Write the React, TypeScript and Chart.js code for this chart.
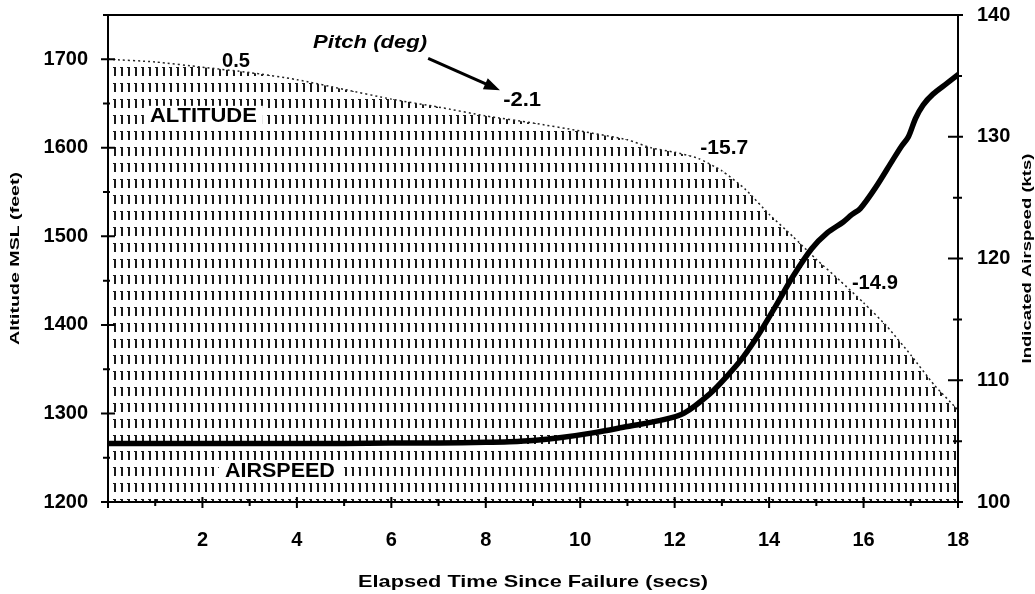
import { useEffect, useRef } from 'react';
import { Chart, registerables } from 'chart.js';

Chart.register(...registerables);

// ---- data ----
const altTimes = [0, 1, 2, 3, 4, 5, 6, 7, 8, 9, 10, 11, 11.5, 12, 12.5, 13, 13.5, 14, 14.5, 15, 15.5, 16, 16.5, 17, 17.5, 18];
const altValues = [1700, 1697, 1691, 1685, 1677, 1666, 1655, 1646, 1636, 1628, 1619, 1609, 1600, 1595, 1588, 1574, 1553, 1525, 1500, 1474, 1450, 1425, 1398, 1366, 1332, 1304];

const spdTimes = [0, 1, 2, 3, 4, 5, 6, 7, 8, 8.5, 9, 9.6, 10.3, 11, 11.7, 12.2, 12.75, 13.1, 13.45, 13.8, 14.17, 14.5, 14.9, 15.23, 15.57, 15.75, 15.93, 16.25, 16.62, 16.8, 16.95, 17.1, 17.26, 17.47, 17.77, 18];
const spdValues = [104.8, 104.8, 104.8, 104.8, 104.8, 104.8, 104.85, 104.85, 104.9, 104.95, 105.05, 105.3, 105.7, 106.2, 106.7, 107.3, 108.9, 110.3, 111.9, 113.9, 116.3, 118.5, 120.8, 122.1, 123.0, 123.6, 124.1, 125.8, 128.1, 129.2, 130.0, 131.5, 132.6, 133.5, 134.4, 135.1];

const xTickValues = [2, 4, 6, 8, 10, 12, 14, 16, 18];
const xMinorValues = [0, 1, 3, 5, 7, 9, 11, 13, 15, 17];
const altTickValues = [1200, 1300, 1400, 1500, 1600, 1700];
const altMinorValues = [1250, 1350, 1450, 1550, 1650, 1750];
const spdTickValues = [100, 110, 120, 130, 140];
const spdMinorValues = [105, 115, 125, 135];

const pitchLabels = ['0.5', '-2.1', '-15.7', '-14.9'];
const pitchTimes = [2.71, 8.77, 13.05, 16.24];
const pitchAlts = [1698, 1654, 1599, 1447];
const pitchWidths = [28, 38, 48, 46];

const FONT = '"Liberation Sans", Arial, sans-serif';

function stretchText(ctx: CanvasRenderingContext2D, text: string, x: number, y: number, font: string, width: number | null, rot = 0) {
  ctx.save();
  ctx.translate(x, y);
  if (rot) ctx.rotate(rot);
  ctx.font = font;
  const w = ctx.measureText(text).width;
  const s = width ? width / w : 1;
  ctx.scale(s, 1);
  ctx.textAlign = 'center';
  ctx.textBaseline = 'middle';
  ctx.fillStyle = '#000';
  ctx.fillText(text, 0, 0);
  ctx.restore();
}

const framePlugin = {
  id: 'frame',
  afterDatasetsDraw(chart: any) {
    const { ctx, chartArea } = chart;
    const { left, right, top, bottom } = chartArea;
    const x = chart.scales.x;
    const y = chart.scales.y;
    const y1 = chart.scales.y1;

    // white boxes + series labels
    const boxLabel = (text: string, t: number, a: number, w: number) => {
      const px = x.getPixelForValue(t);
      const py = y.getPixelForValue(a);
      ctx.save();
      ctx.fillStyle = '#fff';
      ctx.fillRect(px - w / 2 - 6, py - 11, w + 12, 22);
      ctx.restore();
      stretchText(ctx, text, px, py, `bold 20px ${FONT}`, w);
    };
    boxLabel('ALTITUDE', 2.02, 1635, 107);
    boxLabel('AIRSPEED', 3.64, 1235, 110);

    // frame
    ctx.save();
    ctx.strokeStyle = '#000';
    ctx.lineWidth = 2;
    ctx.beginPath();
    ctx.moveTo(left, top);
    ctx.lineTo(right, top);
    ctx.moveTo(left, top);
    ctx.lineTo(left, bottom);
    ctx.moveTo(right, top);
    ctx.lineTo(right, bottom);
    ctx.moveTo(left - 7, bottom);
    ctx.lineTo(right + 5, bottom);
    ctx.stroke();

    ctx.beginPath();
    xTickValues.concat([0]).forEach((v) => {
      const px = x.getPixelForValue(v);
      ctx.moveTo(px, bottom - 5);
      ctx.lineTo(px, bottom + 6);
    });
    xMinorValues.forEach((v) => {
      const px = x.getPixelForValue(v);
      ctx.moveTo(px, bottom - 3);
      ctx.lineTo(px, bottom + 4);
    });
    altTickValues.forEach((v) => {
      const py = y.getPixelForValue(v);
      ctx.moveTo(left - 7, py);
      ctx.lineTo(left + 7, py);
    });
    altMinorValues.forEach((v) => {
      const py = y.getPixelForValue(v);
      ctx.moveTo(left - 5, py);
      ctx.lineTo(left + 2, py);
    });
    spdTickValues.forEach((v) => {
      const py = y1.getPixelForValue(v);
      ctx.moveTo(right - 10, py);
      ctx.lineTo(right + 5, py);
    });
    spdMinorValues.forEach((v) => {
      const py = y1.getPixelForValue(v);
      ctx.moveTo(right - 5, py);
      ctx.lineTo(right + 4, py);
    });
    ctx.stroke();
    ctx.restore();

    // pitch labels
    pitchLabels.forEach((txt, i) => {
      stretchText(ctx, txt, x.getPixelForValue(pitchTimes[i]), y.getPixelForValue(pitchAlts[i]), `bold 20px ${FONT}`, pitchWidths[i]);
    });

    // Pitch (deg) + arrow
    stretchText(ctx, 'Pitch (deg)', x.getPixelForValue(5.55), y.getPixelForValue(1718), `italic bold 18px ${FONT}`, 114);
    const ax0 = x.getPixelForValue(6.78), ay0 = y.getPixelForValue(1701);
    const ax1 = x.getPixelForValue(8.3), ay1 = y.getPixelForValue(1665);
    const ang = Math.atan2(ay1 - ay0, ax1 - ax0);
    ctx.save();
    ctx.strokeStyle = '#000';
    ctx.fillStyle = '#000';
    ctx.lineWidth = 3;
    ctx.beginPath();
    ctx.moveTo(ax0, ay0);
    ctx.lineTo(ax1 - 10 * Math.cos(ang), ay1 - 10 * Math.sin(ang));
    ctx.stroke();
    ctx.beginPath();
    ctx.moveTo(ax1, ay1);
    ctx.lineTo(ax1 - 16 * Math.cos(ang) + 6 * Math.sin(ang), ay1 - 16 * Math.sin(ang) - 6 * Math.cos(ang));
    ctx.lineTo(ax1 - 16 * Math.cos(ang) - 6 * Math.sin(ang), ay1 - 16 * Math.sin(ang) + 6 * Math.cos(ang));
    ctx.closePath();
    ctx.fill();
    ctx.restore();

    // axis titles
    const midY = (top + bottom) / 2;
    stretchText(ctx, 'Altitude MSL (feet)', 15, midY, `bold 13px ${FONT}`, 173, -Math.PI / 2);
    stretchText(ctx, 'Indicated Airspeed (kts)', 1027, midY, `bold 13px ${FONT}`, 210, -Math.PI / 2);
    stretchText(ctx, 'Elapsed Time Since Failure (secs)', (left + right) / 2, 582, `bold 17px ${FONT}`, 350);
  },
};

function makePattern(): CanvasPattern | string {
  const c = document.createElement('canvas');
  c.width = 7;
  c.height = 16;
  const g = c.getContext('2d');
  if (!g) return '#888';
  g.fillStyle = '#1a1a1a';
  g.fillRect(2, 3, 2, 9);
  g.fillRect(1, 3, 1, 1);
  const p = g.createPattern(c, 'repeat');
  return p || '#888';
}

export default function App() {
  const ref = useRef<HTMLCanvasElement>(null);

  useEffect(() => {
    document.body.style.margin = '0';
    const canvas = ref.current;
    if (!canvas) return;
    const pattern = makePattern();
    const tickFont = { family: FONT, size: 20, weight: 'bold' as const };
    const plain = (v: any) => String(v);

    const chart = new Chart(canvas, {
      type: 'line',
      data: {
        datasets: [
          {
            label: 'Airspeed',
            data: spdTimes.map((t, i) => ({ x: t, y: spdValues[i] })),
            yAxisID: 'y1',
            borderColor: '#000',
            borderWidth: 5.5,
            pointRadius: 0,
            tension: 0.3,
            fill: false,
            borderCapStyle: 'round',
            borderJoinStyle: 'round',
            order: 0,
          },
          {
            label: 'Altitude',
            data: altTimes.map((t, i) => ({ x: t, y: altValues[i] })),
            yAxisID: 'y',
            borderColor: '#222',
            borderWidth: 1.5,
            borderDash: [2, 3],
            backgroundColor: pattern as any,
            pointRadius: 0,
            tension: 0.2,
            fill: 'start',
            order: 1,
          },
        ],
      },
      options: {
        responsive: false,
        animation: false,
        events: [],
        layout: { padding: { top: 15, left: 0, right: 0, bottom: 0 } },
        plugins: {
          legend: { display: false },
          tooltip: { enabled: false },
        },
        scales: {
          x: {
            type: 'linear',
            min: 0,
            max: 18,
            grid: { display: false, drawTicks: false },
            border: { display: false },
            ticks: { font: tickFont, color: '#000', padding: 26, maxRotation: 0, callback: plain },
            afterBuildTicks: (s: any) => {
              s.ticks = xTickValues.map((v) => ({ value: v }));
            },
            afterFit: (s: any) => {
              s.height = 92;
              s.paddingLeft = 0;
              s.paddingRight = 0;
            },
          },
          y: {
            type: 'linear',
            position: 'left',
            min: 1200,
            max: 1750,
            grid: { display: false, drawTicks: false },
            border: { display: false },
            ticks: { font: tickFont, color: '#000', padding: 20, callback: plain },
            afterBuildTicks: (s: any) => {
              s.ticks = altTickValues.map((v) => ({ value: v }));
            },
            afterFit: (s: any) => {
              s.width = 108;
              s.paddingTop = 0;
              s.paddingBottom = 0;
            },
          },
          y1: {
            type: 'linear',
            position: 'right',
            min: 100,
            max: 140,
            grid: { display: false, drawTicks: false },
            border: { display: false },
            ticks: { font: tickFont, color: '#000', padding: 19, callback: plain },
            afterBuildTicks: (s: any) => {
              s.ticks = spdTickValues.map((v) => ({ value: v }));
            },
            afterFit: (s: any) => {
              s.width = 77;
              s.paddingTop = 0;
              s.paddingBottom = 0;
            },
          },
        },
      },
      plugins: [framePlugin],
    });
    return () => chart.destroy();
  }, []);

  return (
    <div style={{ width: 1035, height: 594, background: '#fff' }}>
      <canvas ref={ref} width={1035} height={594} style={{ display: 'block' }} />
    </div>
  );
}
